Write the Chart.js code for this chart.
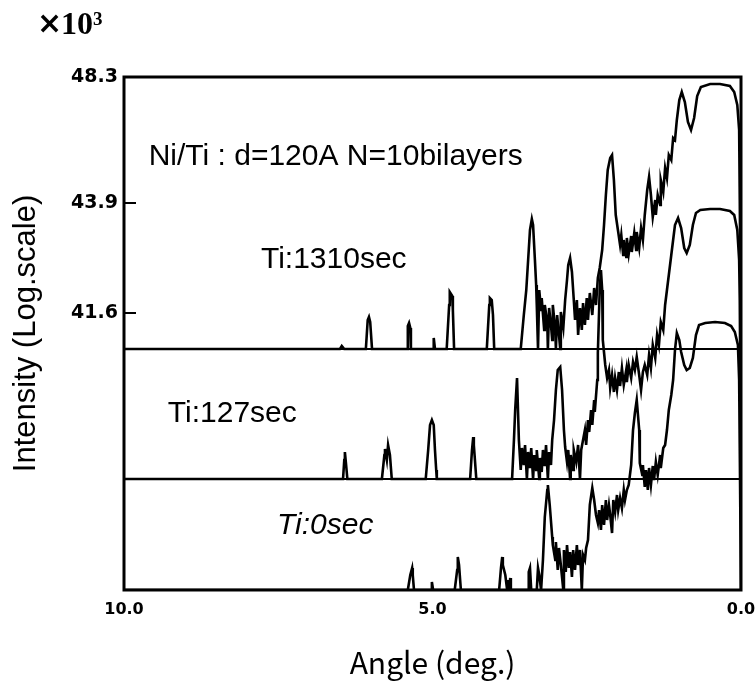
<!DOCTYPE html>
<html>
<head>
<meta charset="utf-8">
<script src="https://cdn.jsdelivr.net/npm/chart.js@4.4.1/dist/chart.umd.min.js"></script>
<style>
  html, body { margin: 0; padding: 0; background: #fff; }
  #wrap { width: 755px; height: 681px; }
</style>
</head>
<body>
<div id="wrap"><canvas id="chart" width="755" height="681"></canvas></div>
<script>
// axis ticks (y positions are in the plot's arbitrary offset units)
const xTickValues = [10, 5, 0];
const xTickLabels = ["10.0", "5.0", "0.0"];
const yTickValues = [51.3, 38.7, 27.7];
const yTickLabels = ["48.3", "43.9", "41.6"];

// zero levels of the two offset curves
const baseline1310 = 24.1;
const baseline127 = 11.1;

// [angle (deg), intensity offset]
const ti1310 = [
  [10.00,24.1],[6.50,24.1],[6.47,24.4],[6.43,24.1],[6.08,24.1],[6.05,27.0],[6.03,27.3],[6.01,26.8],[5.98,24.1],
  [5.41,24.1],[5.40,26.4],[5.38,26.7],[5.36,26.2],[5.35,24.1],
  [4.99,24.1],[4.98,25.2],[4.96,24.1],
  [4.77,24.1],[4.73,28.5],[4.72,29.8],[4.68,29.4],[4.67,28.0],[4.65,24.1],
  [4.12,24.1],[4.08,28.5],[4.07,29.2],[4.04,29.0],[4.02,27.5],[4.00,24.1],
  [3.57,24.1],[3.52,27.5],[3.48,30.0],[3.45,33.0],[3.42,36.0],[3.39,37.1],[3.37,36.5],[3.34,33.0],[3.32,30.5],
  [3.31,28.5],[3.29,24.1],[3.27,30.0],[3.24,28.0],[3.23,29.2],[3.19,26.0],[3.18,28.5],[3.14,26.8],[3.13,24.1],
  [3.11,28.2],[3.08,26.5],[3.06,25.0],[3.05,28.5],[3.01,26.0],[3.00,24.1],[2.98,27.5],[2.95,25.5],[2.93,24.1],
  [2.92,27.8],[2.88,26.2],[2.85,29.0],[2.82,31.0],[2.80,32.5],[2.77,33.2],[2.74,31.8],[2.71,29.0],[2.69,27.0],
  [2.66,29.0],[2.64,25.5],[2.61,28.2],[2.58,26.0],[2.56,28.7],[2.53,26.5],[2.50,29.2],[2.48,27.0],[2.45,29.7],
  [2.41,27.5],[2.38,30.2],[2.35,28.5],[2.32,31.2],[2.29,32.2],[2.25,34.0],[2.22,36.5],[2.19,39.5],[2.16,42.0],
  [2.12,43.2],[2.09,43.5],[2.06,41.0],[2.03,37.5],[1.99,35.8],[1.96,34.5],[1.94,35.5],[1.91,33.5],[1.90,35.0],
  [1.86,33.3],[1.85,35.2],[1.82,33.6],[1.78,35.4],[1.77,33.8],[1.73,35.7],[1.70,34.0],[1.69,35.8],[1.65,34.2],
  [1.62,36.2],[1.59,35.0],[1.56,37.5],[1.52,40.0],[1.49,41.3],[1.46,39.5],[1.43,37.3],[1.39,39.0],[1.38,37.5],
  [1.35,39.5],[1.31,38.5],[1.30,41.0],[1.26,39.8],[1.23,42.2],[1.20,41.2],[1.17,43.5],[1.13,43.0],[1.10,45.2],
  [1.07,45.0],[1.04,47.0],[1.00,49.0],[0.96,49.8],[0.91,48.8],[0.86,46.8],[0.81,46.0],[0.76,47.2],[0.71,49.4],
  [0.65,50.3],[0.50,50.6],[0.34,50.6],[0.18,50.4],[0.11,49.8],[0.06,48.5],[0.03,46.0],[0.02,39.0],[0.00,24.1]
];

const ti127 = [
  [10.00,11.1],[6.45,11.1],[6.43,13.0],[6.42,13.8],[6.40,12.5],[6.38,11.1],
  [5.82,11.1],[5.78,13.5],[5.77,14.1],[5.74,13.0],[5.72,14.5],[5.69,13.5],[5.66,11.1],
  [5.11,11.1],[5.07,14.0],[5.04,16.5],[5.01,17.0],[4.98,16.5],[4.96,14.0],[4.94,12.0],[4.93,11.1],
  [4.39,11.1],[4.36,14.0],[4.34,15.3],[4.33,14.5],[4.29,11.1],
  [3.71,11.1],[3.68,15.0],[3.66,18.0],[3.63,21.2],[3.60,15.0],[3.57,12.0],[3.55,14.2],[3.52,12.5],[3.50,14.5],
  [3.47,11.1],[3.45,13.8],[3.42,12.2],[3.40,14.2],[3.37,11.1],[3.35,13.5],[3.32,12.0],[3.31,14.0],[3.27,11.1],
  [3.26,13.2],[3.23,11.8],[3.21,14.0],[3.18,12.4],[3.16,14.5],[3.13,11.1],[3.11,13.8],[3.08,12.5],[3.06,15.0],
  [3.03,17.0],[3.00,20.0],[2.97,22.0],[2.93,22.3],[2.90,20.0],[2.87,16.0],[2.85,14.3],[2.82,12.8],[2.80,14.0],
  [2.77,11.1],[2.76,13.5],[2.72,12.0],[2.71,14.0],[2.67,12.8],[2.64,14.5],[2.61,11.1],[2.59,14.0],[2.56,15.0],
  [2.53,16.0],[2.51,14.5],[2.48,17.0],[2.46,15.8],[2.43,18.0],[2.41,16.5],[2.38,19.0],[2.37,17.8],[2.33,21.0],
  [2.32,23.7],[2.29,30.0],[2.27,32.0],[2.25,30.0],[2.24,25.0],[2.20,22.5],[2.17,21.2],[2.14,22.0],[2.12,20.2],
  [2.09,21.5],[2.06,19.8],[2.04,21.2],[2.01,20.0],[1.98,21.8],[1.96,20.4],[1.93,22.2],[1.90,20.5],[1.86,22.0],
  [1.85,20.8],[1.82,22.5],[1.78,21.2],[1.75,22.8],[1.72,22.0],[1.69,23.3],[1.65,21.5],[1.62,20.0],[1.59,21.8],
  [1.56,22.5],[1.52,21.5],[1.49,23.5],[1.46,22.2],[1.43,24.5],[1.39,23.2],[1.36,25.5],[1.33,24.5],[1.30,26.8],
  [1.26,26.0],[1.23,28.5],[1.20,30.0],[1.17,31.5],[1.13,33.5],[1.10,35.0],[1.07,36.5],[1.02,37.2],[0.97,36.2],
  [0.92,34.2],[0.88,33.7],[0.83,34.5],[0.78,36.5],[0.73,37.7],[0.66,38.0],[0.50,38.1],[0.34,38.1],[0.18,37.9],
  [0.11,37.5],[0.06,36.0],[0.03,33.0],[0.02,29.0],[0.00,11.1]
];

const ti0 = [
  [10.00,0],[5.40,0],[5.36,1.5],[5.33,2.2],[5.32,1.5],[5.30,0],
  [5.02,0],[5.01,0.8],[4.99,0],
  [4.64,0],[4.60,2.0],[4.59,3.3],[4.57,2.5],[4.54,0],
  [3.92,0],[3.89,2.2],[3.87,3.3],[3.86,2.5],[3.82,1.5],[3.79,0],[3.78,1.0],[3.76,0],[3.74,1.2],[3.73,0],
  [3.45,0],[3.44,1.8],[3.42,2.2],[3.40,0],
  [3.31,0],[3.29,2.2],[3.27,1.5],[3.24,0],
  [3.21,3.0],[3.18,7.3],[3.14,10.0],[3.13,10.5],[3.10,8.5],[3.06,5.3],[3.05,4.5],[3.01,3.0],[3.00,4.8],
  [2.97,2.0],[2.95,4.2],[2.92,2.5],[2.88,0],[2.87,4.0],[2.84,1.8],[2.82,4.5],[2.79,2.2],[2.77,3.8],
  [2.74,1.3],[2.72,4.0],[2.69,2.0],[2.66,4.5],[2.64,2.5],[2.61,4.0],[2.58,0],[2.56,3.5],[2.53,3.0],
  [2.51,4.2],[2.48,5.0],[2.45,8.5],[2.41,10.2],[2.38,9.0],[2.35,7.5],[2.32,6.7],[2.30,8.0],[2.27,6.0],
  [2.25,8.5],[2.22,6.5],[2.19,9.0],[2.17,7.0],[2.14,8.5],[2.12,7.5],[2.09,5.7],[2.07,9.0],[2.04,7.8],
  [2.01,9.5],[1.99,8.0],[1.96,9.2],[1.93,8.2],[1.90,10.0],[1.88,9.0],[1.85,10.0],[1.82,10.5],[1.78,12.5],
  [1.75,16.0],[1.72,17.7],[1.69,19.0],[1.65,16.0],[1.64,12.7],[1.60,11.5],[1.59,12.5],[1.56,10.3],[1.54,12.0],
  [1.51,10.0],[1.49,12.2],[1.46,10.5],[1.43,12.4],[1.41,11.0],[1.38,12.8],[1.35,11.5],[1.31,13.5],[1.30,12.2],
  [1.26,14.2],[1.23,14.5],[1.20,16.0],[1.17,18.0],[1.13,19.5],[1.10,21.0],[1.07,24.0],[1.04,25.7],[1.00,25.0],
  [0.97,23.8],[0.92,22.5],[0.88,22.0],[0.83,22.2],[0.78,23.2],[0.73,25.5],[0.68,26.5],[0.58,26.7],[0.42,26.8],
  [0.26,26.7],[0.16,26.4],[0.10,25.8],[0.05,24.5],[0.03,21.0],[0.02,14.0],[0.00,0]
];

// text placed inside the plot, in data coordinates
const notes = [
  { text: "Ni/Ti : d=120A N=10bilayers", x: 9.60, y: 43.3, italic: false },
  { text: "Ti:1310sec", x: 7.78, y: 33.0, italic: false },
  { text: "Ti:127sec", x: 9.29, y: 17.6, italic: false },
  { text: "Ti:0sec", x: 7.52, y: 6.4, italic: true }
];

const toXY = (pairs) => pairs.map(([a, v]) => ({ x: a, y: v }));
const flat = (v) => [{ x: 10, y: v }, { x: 0, y: v }];

const lineStyle = {
  borderColor: "#000",
  borderWidth: 2.6,
  pointRadius: 0,
  tension: 0,
  fill: false
};

const decorPlugin = {
  id: "decor",
  beforeDraw(chart) {
    const ctx = chart.ctx;
    ctx.save();
    ctx.fillStyle = "#fff";
    ctx.fillRect(0, 0, chart.width, chart.height);
    ctx.restore();
  },
  afterDatasetsDraw(chart) {
    const { ctx, chartArea: a, scales } = chart;
    ctx.save();
    // frame
    ctx.strokeStyle = "#000";
    ctx.lineWidth = 3;
    ctx.strokeRect(a.left, a.top, a.right - a.left, a.bottom - a.top);
    // inward y ticks
    ctx.lineWidth = 2;
    yTickValues.forEach((v) => {
      const py = scales.y.getPixelForValue(v);
      ctx.beginPath();
      ctx.moveTo(a.left, py);
      ctx.lineTo(a.left + 12, py);
      ctx.stroke();
    });
    // notes
    ctx.fillStyle = "#000";
    ctx.textBaseline = "middle";
    ctx.textAlign = "left";
    notes.forEach((n) => {
      ctx.font = (n.italic ? "italic " : "") + "30px 'Liberation Sans', Arial, sans-serif";
      ctx.fillText(n.text, scales.x.getPixelForValue(n.x), scales.y.getPixelForValue(n.y));
    });
    // multiplier
    ctx.textBaseline = "alphabetic";
    ctx.font = "bold 30px 'DejaVu Sans', sans-serif";
    ctx.fillText("\u00d7", 37, 33);
    ctx.font = "bold 32px 'Liberation Serif', 'Times New Roman', serif";
    ctx.fillText("10", 61, 34);
    ctx.font = "bold 19px 'Liberation Serif', 'Times New Roman', serif";
    ctx.fillText("3", 93, 25);
    ctx.restore();
  }
};

new Chart(document.getElementById("chart"), {
  type: "line",
  data: {
    datasets: [
      { ...lineStyle, label: "Ti:1310sec", data: toXY(ti1310) },
      { ...lineStyle, label: "Ti:127sec", data: toXY(ti127) },
      { ...lineStyle, label: "Ti:0sec", data: toXY(ti0) },
      { ...lineStyle, borderWidth: 2, label: "base 1310", data: flat(baseline1310) },
      { ...lineStyle, borderWidth: 2, label: "base 127", data: flat(baseline127) }
    ]
  },
  options: {
    responsive: false,
    animation: false,
    layout: { padding: { top: 77, right: 14, left: 0, bottom: 0 } },
    plugins: { legend: { display: false }, tooltip: { enabled: false } },
    scales: {
      x: {
        type: "linear",
        reverse: true,
        min: 0,
        max: 10,
        afterBuildTicks: (s) => { s.ticks = xTickValues.map((v) => ({ value: v })); },
        afterFit: (s) => { s.height = 91; s.paddingLeft = 0; s.paddingRight = 0; },
        grid: { display: false, drawTicks: false },
        border: { display: false },
        ticks: {
          padding: 10,
          color: "#000",
          maxRotation: 0,
          font: { family: "'DejaVu Sans'", size: 16, weight: "bold" },
          callback: (v) => xTickLabels[xTickValues.indexOf(v)]
        },
        title: {
          display: true,
          text: "Angle (deg.)",
          color: "#000",
          font: { family: "'Noto Sans CJK JP', 'Noto Sans', sans-serif", size: 30 },
          padding: { top: 0, bottom: 0 }
        }
      },
      y: {
        type: "linear",
        min: 0,
        max: 51.3,
        afterBuildTicks: (s) => { s.ticks = yTickValues.map((v) => ({ value: v })); },
        afterFit: (s) => { s.width = 124; s.paddingTop = 0; s.paddingBottom = 0; },
        grid: { display: false, drawTicks: false },
        border: { display: false },
        ticks: {
          padding: 6,
          color: "#000",
          font: { family: "'DejaVu Sans'", size: 19, weight: "bold" },
          callback: (v) => yTickLabels[yTickValues.indexOf(v)]
        },
        title: {
          display: true,
          text: "Intensity (Log.scale)",
          color: "#000",
          font: { family: "'Liberation Sans', Arial, sans-serif", size: 31 },
          padding: { top: 8, bottom: 0 }
        }
      }
    }
  },
  plugins: [decorPlugin]
});
</script>
</body>
</html>
